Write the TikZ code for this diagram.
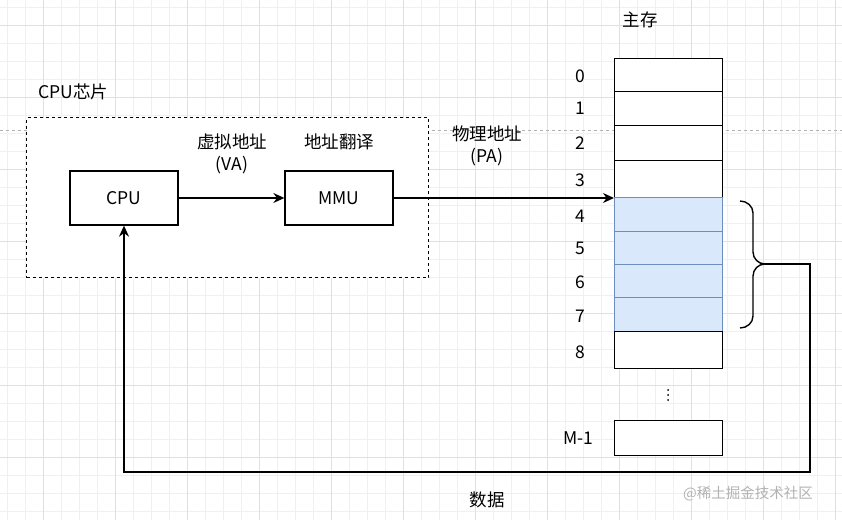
\documentclass[tikz,border=0pt]{standalone}
\usepackage{fontspec}
\setmainfont{Noto Sans CJK SC}
\usetikzlibrary{arrows.meta}
\begin{document}
\begin{tikzpicture}[x=1pt,y=-1pt,
  box/.style={draw,line width=1.3pt,fill=white,minimum width=108pt,minimum height=54pt,inner sep=0pt},
  cell/.style={draw,line width=1.3pt,fill=white,minimum width=108pt,inner sep=0pt,anchor=north west},
  bcell/.style={draw={rgb,255:red,108;green,142;blue,191},line width=1.3pt,fill={rgb,255:red,218;green,232;blue,252},minimum width=108pt,inner sep=0pt,anchor=north west},
  lbl/.style={font=\fontsize{17.5}{22}\selectfont,align=center},
  conn/.style={line width=1.3pt,-{Stealth[length=11pt,width=10pt]}}]
\useasboundingbox (0,0) rectangle (842,520);
\fill[white] (0,0) rectangle (842,520);
\foreach \x in {7,25,...,842} \draw[black!6] (\x,0) -- (\x,520);
\foreach \y in {7,25,...,520} \draw[black!6] (0,\y) -- (842,\y);
\foreach \x in {43,115,...,842} \draw[black!12] (\x,0) -- (\x,520);
\foreach \y in {25,97,...,520} \draw[black!12] (0,\y) -- (842,\y);
\draw[black!30,dashed,line width=0.8pt] (0,130) -- (842,130);
% chip
\node[draw,dashed,line width=1.4pt,fill=white,minimum width=402pt,minimum height=160pt,anchor=north west] (chip) at (26,117) {};
\node[lbl,anchor=west] (chiplbl) at (35,92) {CPU芯片};
\node[box] (cpu) at (124,198) {\fontsize{17.5}{22}\selectfont CPU};
\node[box] (mmu) at (339,198) {\fontsize{17.5}{22}\selectfont MMU};
\node[lbl] (va) at (232,154) {虚拟地址\\(VA)};
\node[lbl] (tr) at (339,142) {地址翻译};
\node[lbl] (pa) at (487,146) {物理地址\\(PA)};
\node[lbl] (main) at (640,20) {主存};
% memory
\node[cell,minimum height=33pt] (m0) at (614,58) {};
\node[cell,minimum height=34pt] (m1) at (614,91) {};
\node[cell,minimum height=35pt] (m2) at (614,125) {};
\node[cell,minimum height=37pt] (m3) at (614,160) {};
\node[bcell,minimum height=34pt] (m4) at (614,197) {};
\node[bcell,minimum height=33pt] (m5) at (614,231) {};
\node[bcell,minimum height=33pt] (m6) at (614,264) {};
\node[bcell,minimum height=34pt] (m7) at (614,297) {};
\node[cell,minimum height=37pt] (m8) at (614,331) {};
\node[cell,minimum height=35pt] (mm) at (614,420) {};
\foreach \n/\y in {0/76,1/108,2/143,3/180,4/216,5/248,6/282,7/316,8/352}
  \node[lbl] (n\n) at (580,\y) {\n};
\node[lbl] (nm) at (578,438) {M-1};
\node[inner sep=0pt] (dots) at (668,395) {\tikz[x=1pt,y=1pt]{\fill (0,0) circle (1pt) (0,5) circle (1pt) (0,10) circle (1pt);}};
\node[lbl] (data) at (487,500) {数据};
\node[font=\fontsize{14.5}{17}\selectfont,text=black!30] (wm) at (748,494) {@稀土掘金技术社区};
% arrows
\draw[conn] (cpu) -- (mmu);
\coordinate (pin) at (614,198);
\draw[conn] (mmu.east) -- (pin);
% brace
\coordinate (tip) at (765,264);
\draw[line width=1.4pt] (740,201) to[out=0,in=90] (753,213) -- (753,252) to[out=-90,in=180] (tip)
  to[out=180,in=90] (753,276) -- (753,316) to[out=-90,in=0] (740,328);
\coordinate (c1) at (810,264);
\coordinate (c2) at (810,472);
\coordinate (c3) at (124,472);
\draw[conn] (tip) -- (c1) -- (c2) -- (c3) -- (cpu.south);
\end{tikzpicture}
\end{document}
